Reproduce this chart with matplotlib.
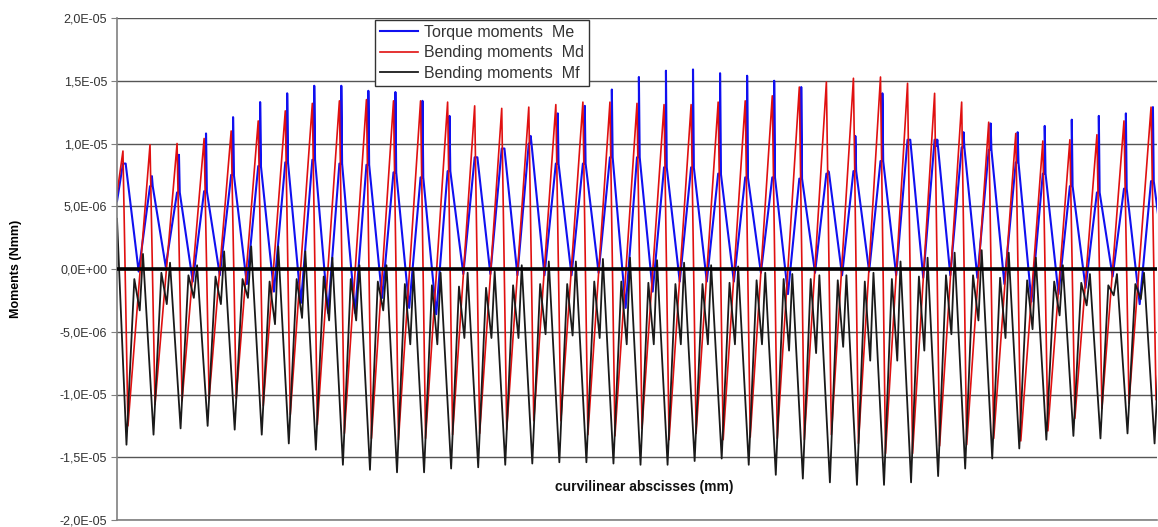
import numpy as np
import matplotlib.pyplot as plt

# valeurs lues par cycle (unite 1e-6 Nmm), 39 cycles
red_peak = [9.4, 9.9, 10.0, 10.4, 11.0, 11.8, 12.6, 13.2, 13.4, 13.5,
            13.4, 13.4, 13.3, 13.0, 12.8, 12.9, 13.1, 13.3, 13.3, 13.2,
            13.1, 13.1, 13.3, 13.4, 13.8, 14.5, 14.9, 15.2, 15.3, 14.8,
            14.0, 13.3, 11.7, 10.8, 10.2, 10.3, 10.7, 11.8, 12.9]
red_trough = [-12.5, -10.8, -10.5, -10.3, -10.3, -10.9, -11.6, -12.4, -13.1, -13.5,
              -13.6, -13.5, -13.2, -13.1, -12.8, -12.1, -12.1, -13.2, -13.3, -12.7,
              -13.6, -13.1, -13.6, -13.4, -13.5, -13.6, -13.2, -13.9, -14.7, -14.7,
              -14.1, -14.0, -13.5, -13.7, -12.9, -11.9, -11.1, -10.7, -10.4]

blue_hump = [8.4, 6.6, 6.1, 6.2, 7.5, 8.2, 8.5, 8.7, 8.4, 8.3,
             7.7, 7.3, 7.8, 8.9, 9.6, 10.0, 8.4, 8.4, 8.9, 8.9,
             8.1, 8.1, 7.6, 7.3, 7.3, 7.2, 7.6, 7.8, 8.6, 10.3,
             10.3, 9.7, 9.5, 8.5, 7.6, 6.6, 6.1, 6.4, 7.0]
blue_spike = [8.4, 7.4, 9.1, 10.8, 12.1, 13.3, 14.0, 14.6, 14.6, 14.2,
              14.1, 13.4, 12.2, 8.9, 9.6, 10.6, 12.4, 13.0, 14.3, 15.3,
              15.8, 15.9, 15.6, 15.4, 15.0, 14.5, 7.8, 10.6, 14.0, 10.3,
              9.8, 10.9, 11.6, 10.9, 11.4, 11.9, 12.2, 12.4, 12.9]
blue_min = [-0.2, 0.2, -1.0, -0.5, -1.2, -1.8, -2.7, -3.5, -3.5, -2.3,
            -3.1, -3.6, -0.4, -0.4, -0.5, -0.5, -0.5, -0.3, -3.1, -1.8,
            -1.0, -1.0, -1.0, -0.3, -2.0, -0.3, -0.5, -0.2, -0.5, -0.7,
            -0.5, -0.7, -1.2, -2.6, -2.0, -1.5, -0.6, -2.8, -1.0]

black_trough = [-14.0, -13.2, -12.7, -12.5, -12.8, -13.2, -13.9, -14.4, -15.6, -16.0,
                -16.2, -16.2, -15.9, -15.8, -15.6, -15.5, -15.4, -15.4, -15.5, -15.6,
                -15.6, -15.3, -15.1, -15.6, -16.4, -16.7, -17.0, -17.2, -17.2, -17.0,
                -16.5, -15.9, -15.1, -14.3, -13.6, -13.3, -13.5, -13.1, -13.9]
black_hump = [-0.8, -0.3, -0.5, -0.6, -0.8, -1.0, -0.8, -0.6, -0.8, -1.0,
              -1.2, -1.3, -1.4, -1.5, -1.3, -1.2, -1.2, -1.0, -1.0, -1.1,
              -1.2, -1.2, -1.1, -0.9, -0.8, -0.8, -0.9, -1.0, -0.8, -0.6,
              -0.5, -0.5, -0.7, -0.9, -1.0, -1.1, -1.3, -1.2, -1.0]
black_dip = [-3.3, -2.8, -2.3, -2.8, -2.3, -4.4, -3.9, -4.1, -4.1, -3.3,
             -6.0, -6.0, -5.5, -5.5, -5.5, -5.2, -5.3, -5.5, -6.0, -6.0,
             -6.0, -6.0, -6.0, -6.0, -6.5, -6.7, -6.2, -7.3, -7.3, -6.5,
             -5.2, -4.1, -5.5, -4.8, -3.7, -2.9, -2.1, -2.4, -2.5]
black_peak = [1.2, 0.5, 0.3, 1.4, 1.8, 1.8, 1.4, 0.9, 0.3, 0.3,
              -0.2, -0.3, -0.3, -0.2, 0.3, 0.6, 0.6, 0.8, 0.9, 0.7,
              0.5, 0.3, 0.2, -0.3, -0.4, -0.5, -0.5, -0.3, 0.6, 0.9,
              1.3, 1.5, 1.3, 0.9, 0.3, -0.4, -0.4, -0.3, -0.3]

start = {'Me': 5.4, 'Md': 6.0, 'Mf': 4.0}

ytick_vals = [2e-5, 1.5e-5, 1e-5, 5e-6, 0, -5e-6, -1e-5, -1.5e-5, -2e-5]
ytick_labels = ['2,0E-05', '1,5E-05', '1,0E-05', '5,0E-06', '0,0E+00',
                '-5,0E-06', '-1,0E-05', '-1,5E-05', '-2,0E-05']

x0 = -0.22
n = len(red_peak)

# construction des courbes a partir des extrema de chaque cycle
xr, yr = [x0], [start['Md']]
xb, yb = [x0], [start['Me']]
xk, yk = [x0], [start['Mf']]
for k in range(n):
    xr += [k, k + 0.185]
    yr += [red_peak[k], red_trough[k]]
    xb += [k, k + 0.07, k + 0.07, k + 0.1, k + 0.58]
    yb += [blue_hump[k], blue_hump[k], blue_spike[k], blue_hump[k], blue_min[k]]
    xk += [k + 0.13, k + 0.42, k + 0.62, k + 0.74]
    yk += [black_trough[k], black_hump[k], black_dip[k], black_peak[k]]

xr = np.array(xr); yr = np.array(yr) * 1e-6
xb = np.array(xb); yb = np.array(yb) * 1e-6
xk = np.array(xk); yk = np.array(yk) * 1e-6

plt.rcParams['font.family'] = ['Liberation Sans', 'DejaVu Sans']
fig = plt.figure(figsize=(11.58, 5.27), dpi=100)
ax = fig.add_axes([117 / 1158, 7 / 527, 1040 / 1158, 502 / 527])

ax.plot(xb, yb, color='#1010f0', lw=1.5, label='Torque moments  Me')
ax.plot(xr, yr, color='#e01010', lw=1.2, label='Bending moments  Md')
ax.plot(xk, yk, color='#1a1a1a', lw=1.3, label='Bending moments  Mf')
ax.axhline(0, color='black', lw=2.6, zorder=6)

ax.set_xlim(x0, 38.22)
ax.set_ylim(-2e-5, 2e-5)
ax.set_yticks(ytick_vals)
ax.set_yticklabels(ytick_labels, fontsize=9, color='#333333')
ax.set_xticks([])
ax.tick_params(axis='y', length=4, color='#808080', pad=3)
ax.grid(axis='y', color='#555555', lw=1.0)
ax.set_axisbelow(True)
for s in ['top', 'right']:
    ax.spines[s].set_visible(False)
for s in ['left', 'bottom']:
    ax.spines[s].set_color('#808080')
    ax.spines[s].set_linewidth(1.2)

ax.set_ylabel('Moments (Nmm)', fontsize=9, fontweight='bold', labelpad=27)
ax.text(0.507, 0.066, 'curvilinear abscisses (mm)', transform=ax.transAxes,
        ha='center', va='center', fontsize=10, fontweight='bold', color='#111111')

leg = ax.legend(loc='upper left', bbox_to_anchor=(0.248, 0.996), fontsize=11.5,
                frameon=True, fancybox=False, edgecolor='#333333', framealpha=1,
                borderpad=0.3, labelspacing=0.35, handlelength=2.4, handletextpad=0.4,
                borderaxespad=0)
leg.set_zorder(10)
for t in leg.get_texts():
    t.set_color('#333333')

fig.savefig('out.png', dpi=100)
